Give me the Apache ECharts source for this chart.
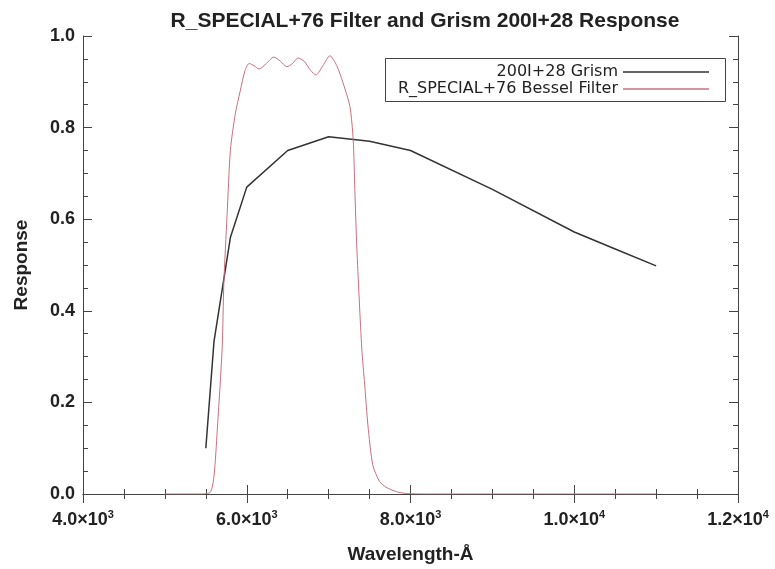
<!DOCTYPE html>
<html>
<head>
<meta charset="utf-8">
<script src="https://cdn.jsdelivr.net/npm/echarts@6/dist/echarts.min.js"></script>
<style>html,body{margin:0;padding:0;background:#fff;}#c{width:775px;height:569px;}</style>
</head>
<body>
<div id="c"></div>
<script>
// Data
var grismWave = [5500, 5600, 5800, 6000, 6500, 7000, 7500, 8000, 9000, 10000, 10500, 11000];
var grismResp = [0.10, 0.333, 0.56, 0.67, 0.75, 0.78, 0.77, 0.75, 0.665, 0.572, 0.535, 0.498];

var filterWave = [5000, 5200, 5400, 5550, 5600, 5640, 5700, 5720, 5760, 5800, 5860, 5920, 5980, 6030, 6090, 6150, 6240, 6330, 6410, 6490, 6560, 6625, 6700, 6780, 6845, 6930, 7016, 7100, 7175, 7260, 7300, 7320, 7345, 7405, 7440, 7480, 7540, 7620, 7700, 7830, 7950, 8200, 8600, 9000, 9500, 10000, 10500, 11000];
var filterResp = [0, 0, 0, 0.003, 0.04, 0.14, 0.32, 0.46, 0.61, 0.75, 0.83, 0.88, 0.925, 0.94, 0.935, 0.928, 0.94, 0.954, 0.945, 0.933, 0.94, 0.952, 0.945, 0.925, 0.915, 0.935, 0.957, 0.935, 0.898, 0.846, 0.774, 0.665, 0.535, 0.317, 0.24, 0.15, 0.063, 0.028, 0.015, 0.005, 0.001, 0, 0, 0, 0, 0, 0, 0];

var xTickValues = [4000, 6000, 8000, 10000, 12000];
var xTickMant = ['4.0', '6.0', '8.0', '1.0', '1.2'];
var xTickExp = ['3', '3', '3', '4', '4'];

var grismName = '200I+28 Grism';
var filterName = 'R_SPECIAL+76 Bessel Filter';
var titleText = 'R_SPECIAL+76 Filter and Grism 200I+28 Response';
var xName = 'Wavelength-Å';
var yName = 'Response';

function zip(a, b) { return a.map(function (v, i) { return [v, b[i]]; }); }

var chart = echarts.init(document.getElementById('c'), null, {renderer: 'canvas'});
var axisCol = '#444';
var font = '"Liberation Sans", Arial, sans-serif';
var legFont = {fontFamily: '"DejaVu Sans", sans-serif', fontSize: 16, color: '#222'};

var opt = {
  backgroundColor: '#fff',
  animation: false,
  title: {
    text: titleText, left: 420, top: 6, textAlign: 'center',
    textStyle: {fontFamily: font, fontSize: 21, fontWeight: 'bold', color: '#222'}
  },
  grid: {left: 83, right: 37, top: 36, bottom: 73},
  legend: [
    {data: [grismName], orient: 'vertical', align: 'right', right: 61, top: 59,
     icon: 'rect', itemWidth: 86, itemHeight: 1.5, textStyle: legFont},
    {data: [filterName], orient: 'vertical', align: 'right', right: 61, top: 76,
     icon: 'rect', itemWidth: 86, itemHeight: 1.5, textStyle: legFont}
  ],
  graphic: [{
    type: 'rect', left: 383, top: 56, z: 10,
    shape: {width: 340, height: 43},
    style: {fill: 'none', stroke: '#444', lineWidth: 1}
  }],
  xAxis: [{
    type: 'value', min: 4000, max: 12000, interval: 2000,
    name: xName, nameLocation: 'middle', nameGap: 51,
    nameTextStyle: {fontFamily: font, fontSize: 19, fontWeight: 'bold', color: '#222'},
    axisLine: {show: true, lineStyle: {color: axisCol, width: 1}},
    axisTick: {show: true, inside: true, length: 9, lineStyle: {color: axisCol}},
    minorTick: {show: true, splitNumber: 4, length: 5, lineStyle: {color: axisCol}},
    splitLine: {show: false},
    axisLabel: {
      margin: 15,
      formatter: function (v) {
        var i = xTickValues.indexOf(v);
        if (i < 0) return '';
        return '{m|' + xTickMant[i] + '×10}{e|' + xTickExp[i] + '}';
      },
      rich: {
        m: {fontFamily: font, fontSize: 18, fontWeight: 'bold', color: '#222'},
        e: {fontFamily: font, fontSize: 11, fontWeight: 'bold', color: '#222', verticalAlign: 'top', padding: [0, 0, 12, 0]}
      }
    }
  }, {
    type: 'value', position: 'top', min: 4000, max: 12000, interval: 2000,
    axisLine: {show: true, lineStyle: {color: axisCol, width: 1}},
    axisTick: {show: true, inside: true, length: 9, lineStyle: {color: axisCol}},
    minorTick: {show: true, splitNumber: 4, length: 5, lineStyle: {color: axisCol}},
    splitLine: {show: false}, axisLabel: {show: false}
  }],
  yAxis: [{
    type: 'value', min: 0, max: 1, interval: 0.2,
    name: yName, nameLocation: 'middle', nameGap: 52, nameRotate: 90,
    nameTextStyle: {fontFamily: font, fontSize: 19, fontWeight: 'bold', color: '#222'},
    axisLine: {show: true, lineStyle: {color: axisCol, width: 1}},
    axisTick: {show: true, inside: true, length: 9, lineStyle: {color: axisCol}},
    minorTick: {show: true, splitNumber: 4, length: 5, lineStyle: {color: axisCol}},
    splitLine: {show: false},
    axisLabel: {margin: 8, fontFamily: font, fontSize: 18, fontWeight: 'bold', color: '#222',
      formatter: function (v) { return v.toFixed(1); }}
  }, {
    type: 'value', position: 'right', min: 0, max: 1, interval: 0.2,
    axisLine: {show: true, lineStyle: {color: axisCol, width: 1}},
    axisTick: {show: true, inside: true, length: 9, lineStyle: {color: axisCol}},
    minorTick: {show: true, splitNumber: 4, length: 5, lineStyle: {color: axisCol}},
    splitLine: {show: false}, axisLabel: {show: false}
  }],
  series: [{
    name: grismName, type: 'line', data: zip(grismWave, grismResp),
    symbol: 'none', lineStyle: {color: '#333', width: 1.5}, itemStyle: {color: '#333'}
  }, {
    name: filterName, type: 'line', data: zip(filterWave, filterResp),
    symbol: 'none', smooth: 0.25,
    lineStyle: {color: '#c8707e', width: 1}, itemStyle: {color: '#c8707e'}
  }]
};
chart.setOption(opt);
</script>
</body>
</html>
